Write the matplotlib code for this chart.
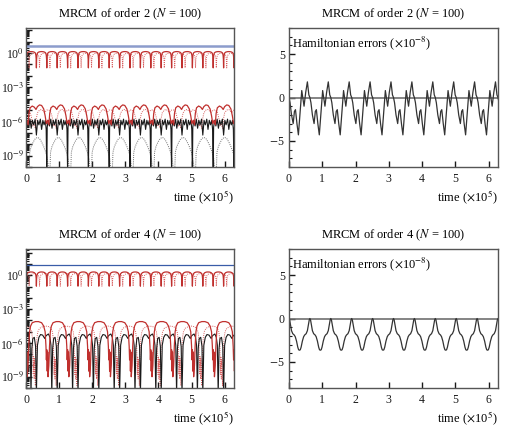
import numpy as np
import matplotlib
matplotlib.use("Agg")
import matplotlib.pyplot as plt
from matplotlib.ticker import MultipleLocator, LogLocator, NullFormatter

plt.rcParams['font.family'] = ['Liberation Serif', 'DejaVu Serif']
plt.rcParams['mathtext.fontset'] = 'stix'
plt.rcParams['font.size'] = 8.5

# ---------------- data ----------------
T_END = 2 * np.pi            # time axis end (x 1e5)
N_PER = 10                   # slow periods over the interval
N_FAST = 20                  # fast arcs over the interval

titles = ["MRCM of order 2 ($N$ = 100)", "MRCM of order 2 ($N$ = 100)",
          "MRCM of order 4 ($N$ = 100)", "MRCM of order 4 ($N$ = 100)"]
xlabel = "time ($\\times$10$^5$)"
ham_label = "Hamiltonian errors ($\\times$10$^{-8}$)"
log_tick_exps = [0, -3, -6, -9]
x_ticks = [0, 1, 2, 3, 4, 5, 6]
ham_ticks = [-5, 0, 5]

# Hamiltonian error, one period profiles (phase fraction, value x1e-8)
ham2_phase = [0.0, 0.05, 0.12, 0.2, 0.26, 0.31, 0.38, 0.45, 0.53, 0.61,
              0.67, 0.72, 0.8, 0.88, 0.95]
ham2_val = [0.0, -0.6, -2.0, -3.0, -1.6, -1.4, -3.0, -4.3, -1.8, 0.8,
            -0.2, -1.0, 0.6, 1.8, 0.3]
ham4_phase = [0.0, 0.03, 0.07, 0.12, 0.18, 0.25, 0.3, 0.36, 0.42, 0.46,
              0.5, 0.54, 0.58, 0.64, 0.7, 0.75, 0.82, 0.88, 0.93, 0.97]
ham4_val = [0.0, -0.15, -0.7, -1.4, -1.75, -1.9, -2.1, -2.6, -3.3, -3.6,
            -3.65, -3.6, -3.3, -2.6, -2.1, -1.9, -1.75, -1.4, -0.7, -0.15]

# Order 2 error curves (log10 values), per-period profiles
tl_blue = 4.6
tl_top_phase = [0.0, 0.02, 0.05, 0.1, 0.2, 0.35, 0.5, 0.65, 0.8, 0.9, 0.95, 0.98]
tl_red_top = [-1.3, -0.55, -0.2, 0.0, 0.08, 0.12, 0.13, 0.12, 0.08, 0.0, -0.2, -0.55]
tl_red_top_dot = [-1.3, -0.75, -0.4, -0.2, -0.08, -0.03, -0.02, -0.03, -0.08, -0.2, -0.4, -0.75]
tl_low_phase = [0.0, 0.04, 0.1, 0.2, 0.3, 0.38, 0.45, 0.55, 0.65, 0.75, 0.82, 0.88, 0.94]
tl_red_low = [-6.3, -5.3, -4.8, -4.65, -4.75, -4.95, -4.7, -4.55, -4.6, -4.9, -5.5, -6.2, -5.9]
tl_red_low_dot = [-6.6, -5.8, -5.25, -5.0, -4.95, -5.1, -5.2, -5.0, -5.0, -5.2, -5.7, -6.4, -6.2]
tl_blk_phase = [0.0, 0.02, 0.07, 0.13, 0.19, 0.25, 0.31, 0.37, 0.44, 0.5,
                0.56, 0.62, 0.69, 0.75, 0.81, 0.87, 0.93, 0.97]
tl_blk = [-10.5, -6.5, -5.9, -6.4, -5.8, -6.6, -5.9, -6.3, -5.8, -7.2,
          -5.9, -6.3, -5.8, -6.7, -5.9, -6.3, -5.9, -6.7]
tl_gray_phase = [0.0, 0.03, 0.1, 0.2, 0.3, 0.4, 0.5, 0.6, 0.7, 0.8, 0.88, 0.95]
tl_gray = [-10.5, -8.7, -8.2, -7.8, -7.5, -7.4, -7.5, -7.8, -8.2, -8.7, -9.3, -10.5]

# Order 4 error curves (log10 values)
bl_blue = 8.0
bl_red_top = [-0.95, -0.3, 0.0, 0.15, 0.25, 0.3, 0.31, 0.3, 0.25, 0.15, 0.0, -0.3]
bl_red_top_dot = [-0.95, -0.5, -0.2, 0.0, 0.1, 0.15, 0.16, 0.15, 0.1, 0.0, -0.2, -0.5]
bl_low_phase = [0.0, 0.03, 0.07, 0.12, 0.2, 0.35, 0.5, 0.65, 0.75, 0.82, 0.86,
                0.88, 0.9, 0.92, 0.94, 0.96]
bl_red_low = [-8.0, -6.3, -5.0, -4.5, -4.2, -4.1, -4.1, -4.2, -4.5, -5.0, -6.3,
              -7.5, -6.6, -8.5, -6.8, -9.0]
bl_red_low_dot = [-9.8, -7.0, -5.6, -5.0, -4.7, -4.55, -4.5, -4.55, -4.7, -5.0, -5.6,
                  -7.0, -8.8, -7.2, -9.2, -7.4]
bl_blk_phase = [0.0, 0.08, 0.15, 0.2, 0.24, 0.28, 0.33, 0.4, 0.46, 0.5, 0.55,
                0.62, 0.7, 0.8, 0.9, 0.95]
bl_blk = [-5.3, -5.2, -5.5, -6.2, -10.5, -6.5, -5.6, -5.5, -6.3, -10.5, -6.2,
          -5.5, -5.25, -5.3, -5.6, -5.4]


def tiled(phase, vals, n, offset=0.0):
    period = T_END / n
    ph = np.asarray(phase)
    t = np.concatenate([(k + ph + offset) * period for k in range(-1, n + 1)])
    v = np.tile(np.asarray(vals, dtype=float), n + 2)
    return t, v


RED = '#c0302e'
RED_D = '#d86060'
BLK = '#1a1a1a'
GRAY = '#6e6e6e'
SPINE = '#555555'

fig = plt.figure(figsize=(5.09, 4.34), dpi=100)
W, H = 509.0, 434.0
pos = {
    'tl': [26 / W, 1 - 167 / H, 208 / W, 139 / H],
    'tr': [289 / W, 1 - 167 / H, 209 / W, 139 / H],
    'bl': [26 / W, 1 - 388 / H, 208 / W, 139 / H],
    'br': [289 / W, 1 - 388 / H, 209 / W, 139 / H],
}


def style(ax, title):
    for s in ax.spines.values():
        s.set_color(SPINE)
        s.set_linewidth(1.0)
    ax.tick_params(which='both', direction='in', top=False, right=False,
                   colors=BLK, labelsize=8.5)
    ax.tick_params(axis='x', pad=4)
    ax.tick_params(which='major', length=4, width=1.0)
    ax.tick_params(which='minor', length=2.5, width=0.8)
    ax.set_xlim(0, T_END)
    ax.set_xticks(x_ticks)
    ax.set_title(title, fontsize=9, pad=8)
    ax.set_xlabel(xlabel, fontsize=9, loc='right', labelpad=3)


def log_panel(ax, title, blue, bcol, bw, red_top, red_top_dot, low_phase,
              red_low, red_low_dot, blk_phase, blk, gray_phase=None, gray=None,
              ylim=(-10, 2.2)):
    t, v = tiled(tl_top_phase, red_top_dot, N_FAST, 0.3)
    ax.plot(t, 10 ** v, color=RED_D, lw=0.7, ls=(0, (1, 1.2)))
    t, v = tiled(tl_top_phase, red_top, N_FAST)
    ax.plot(t, 10 ** v, color=RED, lw=0.9)
    t, v = tiled(low_phase, red_low_dot, N_PER, 0.45)
    ax.plot(t, 10 ** v, color=RED_D, lw=0.7, ls=(0, (1, 1.2)))
    if gray is not None:
        t, v = tiled(gray_phase, gray, N_PER, 0.15)
        ax.plot(t, 10 ** v, color=GRAY, lw=0.7, ls=(0, (1, 1.2)))
    t, v = tiled(blk_phase, blk, N_PER)
    ax.plot(t, 10 ** v, color=BLK, lw=0.8)
    t, v = tiled(low_phase, red_low, N_PER, 0.1)
    ax.plot(t, 10 ** v, color=RED, lw=0.9)
    ax.axhline(blue, color=bcol, lw=bw)
    ax.set_yscale('log')
    ax.set_ylim(10 ** ylim[0], 10 ** ylim[1])
    exps = list(range(-10, 3))
    ax.set_yticks([10.0 ** e for e in exps])
    ax.set_yticklabels([("10$^{%d}$" % e) if e in log_tick_exps else "" for e in exps],
                       fontsize=8)
    ax.tick_params(axis='y', pad=1.5)
    ax.yaxis.set_minor_locator(LogLocator(base=10, subs=np.arange(2, 10), numticks=50))
    ax.yaxis.set_minor_formatter(NullFormatter())
    style(ax, title)


def ham_panel(ax, title, phase, vals):
    ax.axhline(0, color='#707070', lw=1.2)
    t, v = tiled(phase, vals, N_PER)
    ax.plot(t, v, color='#333333', lw=0.9)
    ax.set_ylim(-8, 8)
    ax.set_yticks(ham_ticks)
    ax.set_yticklabels(["$-$5", "0", "5"])
    ax.tick_params(axis='y', pad=3)
    ax.yaxis.set_minor_locator(MultipleLocator(1))
    style(ax, title)
    ax.text(0.012, 0.955, ham_label, transform=ax.transAxes, ha='left', va='top',
            fontsize=9)


ax = fig.add_axes(pos['tl'])
log_panel(ax, titles[0], tl_blue, '#8c9ccc', 1.8, tl_red_top, tl_red_top_dot,
          tl_low_phase, tl_red_low, tl_red_low_dot, tl_blk_phase, tl_blk,
          tl_gray_phase, tl_gray, ylim=(-9.95, 2.2))
ax = fig.add_axes(pos['tr'])
ham_panel(ax, titles[1], ham2_phase, ham2_val)
ax = fig.add_axes(pos['bl'])
log_panel(ax, titles[2], bl_blue, '#3a5ca8', 0.9, bl_red_top, bl_red_top_dot,
          bl_low_phase, bl_red_low, bl_red_low_dot, bl_blk_phase, bl_blk,
          ylim=(-9.8, 2.35))
ax = fig.add_axes(pos['br'])
ham_panel(ax, titles[3], ham4_phase, ham4_val)

fig.savefig('out.png', dpi=100)
